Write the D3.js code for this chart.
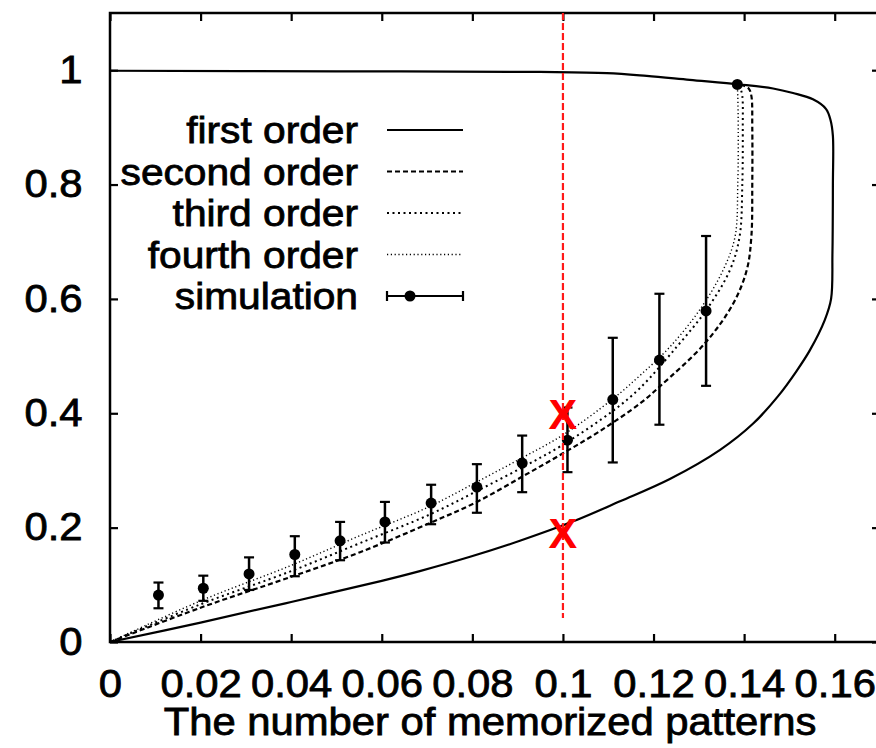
<!DOCTYPE html>
<html>
<head>
<meta charset="utf-8">
<script src="https://cdn.jsdelivr.net/npm/d3@7.9.0/dist/d3.min.js"></script>
<style>
  html, body { margin: 0; padding: 0; background: #fff; }
  svg { display: block; }
  text { font-family: "Liberation Sans", Arial, sans-serif; fill: #000; }
</style>
</head>
<body>
<svg id="chart" width="876" height="748"></svg>
<script>
// ticks
const xTicks = [0, 0.02, 0.04, 0.06, 0.08, 0.1, 0.12, 0.14, 0.16];
const xTickLabels = ['0', '0.02', '0.04', '0.06', '0.08', '0.1', '0.12', '0.14', '0.16'];
const yTicks = [0, 0.2, 0.4, 0.6, 0.8, 1];
const yTickLabels = ['0', '0.2', '0.4', '0.6', '0.8', '1'];
const xTitle = 'The number of memorized patterns';

// theory curves, [pattern ratio, value], in order along the curve
const firstOrder = [
    [0, 0], [0.02, 0.034], [0.04, 0.070], [0.06, 0.107], [0.0684, 0.124], [0.0795, 0.149],
    [0.0905, 0.177], [0.1023, 0.211], [0.1126, 0.246], [0.1236, 0.285], [0.1347, 0.336],
    [0.142, 0.382], [0.1475, 0.430], [0.1515, 0.473], [0.1545, 0.510], [0.1578, 0.563],
    [0.1592, 0.6], [0.1595, 0.68], [0.1596, 0.8], [0.1596, 0.885], [0.1591, 0.912],
    [0.1581, 0.932], [0.1552, 0.949], [0.1508, 0.960], [0.1464, 0.968], [0.139, 0.975],
    [0.128, 0.983], [0.1185, 0.990], [0.1097, 0.995], [0.0949, 0.997], [0.05, 0.998], [0, 0.999]
];
const secondOrder = [
    [0, 0], [0.02, 0.060], [0.04, 0.114], [0.0552, 0.157], [0.0706, 0.208], [0.081, 0.245],
    [0.0912, 0.290], [0.1, 0.330], [0.108, 0.368], [0.117, 0.417], [0.1214, 0.447],
    [0.1313, 0.522], [0.1376, 0.592], [0.1406, 0.651], [0.1416, 0.709], [0.1418, 0.8],
    [0.1418, 0.9], [0.1416, 0.955], [0.141, 0.968], [0.1395, 0.974]
];
const thirdOrder = [
    [0, 0], [0.02, 0.066], [0.04, 0.124], [0.0552, 0.173], [0.0706, 0.223], [0.081, 0.264],
    [0.0912, 0.306], [0.1, 0.345], [0.111, 0.404], [0.117, 0.444], [0.1251, 0.516],
    [0.1317, 0.581], [0.1369, 0.651], [0.139, 0.709], [0.1396, 0.8], [0.1397, 0.9],
    [0.1396, 0.955], [0.1392, 0.968], [0.1388, 0.974]
];
const fourthOrder = [
    [0, 0], [0.02, 0.072], [0.04, 0.134], [0.0552, 0.186], [0.0706, 0.237], [0.081, 0.280],
    [0.0912, 0.323], [0.1, 0.362], [0.111, 0.425], [0.117, 0.466], [0.1236, 0.516],
    [0.1302, 0.581], [0.1354, 0.651], [0.138, 0.709], [0.1386, 0.8], [0.1387, 0.9],
    [0.1386, 0.955], [0.1385, 0.972]
];

// simulation: ratio, mean, error bar low / high
const simX = [0.0107, 0.0206, 0.0307, 0.0408, 0.0508, 0.0607, 0.0709, 0.081, 0.091, 0.101, 0.111, 0.1213, 0.1316, 0.1385];
const simY = [0.082, 0.094, 0.119, 0.153, 0.177, 0.210, 0.243, 0.271, 0.313, 0.353, 0.424, 0.493, 0.579, 0.975];
const simLow = [0.059, 0.072, 0.091, 0.115, 0.143, 0.174, 0.206, 0.226, 0.262, 0.297, 0.314, 0.380, 0.448, 0.975];
const simHigh = [0.104, 0.116, 0.148, 0.185, 0.210, 0.245, 0.275, 0.311, 0.361, 0.410, 0.532, 0.609, 0.710, 0.975];

const legendLabels = ['first order', 'second order', 'third order', 'fourth order', 'simulation'];

// red annotation
const markX = 0.1;
const markY = [0.4, 0.192];
const markLineBottom = 0.042;

const svg = d3.select('#chart');
const x = d3.scaleLinear().domain([0, 0.17]).range([110, 880]);
const y = d3.scaleLinear().domain([0, 1.1]).range([642, 13]);

const styles = {
    first: { dash: null, width: 2.2 },
    second: { dash: '5,3', width: 2.2 },
    third: { dash: '2,3.5', width: 2 },
    fourth: { dash: '1.2,2.6', width: 1.4 },
};

const line = d3.line()
    .x(d => x(d[0]))
    .y(d => y(d[1]))
    .curve(d3.curveCatmullRom.alpha(0.5));

// frame
svg.append('rect')
    .attr('x', x(0)).attr('y', y(1.1))
    .attr('width', x(0.17) - x(0)).attr('height', y(0) - y(1.1))
    .attr('fill', 'none').attr('stroke', '#000').attr('stroke-width', 2.5);

// axes, ticks inward on all four sides
const xAxis = svg.append('g')
    .attr('transform', `translate(0,${y(0)})`)
    .call(d3.axisBottom(x).tickValues(xTicks).tickSize(-8).tickPadding(28)
        .tickFormat((d, i) => xTickLabels[i]));
svg.append('g')
    .attr('transform', `translate(0,${y(1.1)})`)
    .call(d3.axisTop(x).tickValues(xTicks).tickSize(-8).tickFormat(''));
const yAxis = svg.append('g')
    .attr('transform', `translate(${x(0)},0)`)
    .call(d3.axisLeft(y).tickValues(yTicks).tickSize(-8).tickPadding(25)
        .tickFormat((d, i) => yTickLabels[i]));
svg.append('g')
    .attr('transform', `translate(${x(0.17)},0)`)
    .call(d3.axisRight(y).tickValues(yTicks).tickSize(-8).tickFormat(''));

svg.selectAll('.domain').remove();
svg.selectAll('.tick line').attr('stroke', '#000').attr('stroke-width', 2.2);
svg.selectAll('.tick text')
    .attr('font-family', '"Liberation Sans", Arial, sans-serif')
    .attr('font-size', 38)
    .attr('fill', '#000')
    .attr('stroke', '#000').attr('stroke-width', 0.8);
xAxis.selectAll('.tick text').attr('transform', 'scale(1.1,1)');
yAxis.selectAll('.tick text').attr('transform', 'scale(1.1,1)').attr('x', -25);

svg.append('text')
    .attr('transform', `translate(${(x(0) + x(0.17)) / 2 - 5},735) scale(1.1,1)`)
    .attr('text-anchor', 'middle')
    .attr('font-size', 38)
    .attr('stroke', '#000').attr('stroke-width', 0.8)
    .text(xTitle);

// curves
const curves = [
    [firstOrder, styles.first],
    [secondOrder, styles.second],
    [thirdOrder, styles.third],
    [fourthOrder, styles.fourth],
];
curves.forEach(([data, st]) => {
    svg.append('path')
        .datum(data)
        .attr('d', line)
        .attr('fill', 'none')
        .attr('stroke', '#000')
        .attr('stroke-width', st.width)
        .attr('stroke-dasharray', st.dash);
});

// simulation with error bars
const sim = simX.map((v, i) => ({ x: v, y: simY[i], lo: simLow[i], hi: simHigh[i] }));
const bars = svg.append('g').selectAll('g').data(sim).join('g');
bars.append('line')
    .attr('x1', d => x(d.x)).attr('x2', d => x(d.x))
    .attr('y1', d => y(d.lo)).attr('y2', d => y(d.hi))
    .attr('stroke', '#000').attr('stroke-width', 2.5);
bars.filter(d => d.hi > d.lo).selectAll('.cap')
    .data(d => [[d.x, d.lo], [d.x, d.hi]])
    .join('line')
    .attr('x1', d => x(d[0]) - 5).attr('x2', d => x(d[0]) + 5)
    .attr('y1', d => y(d[1])).attr('y2', d => y(d[1]))
    .attr('stroke', '#000').attr('stroke-width', 2.2);
bars.append('circle')
    .attr('cx', d => x(d.x)).attr('cy', d => y(d.y))
    .attr('r', 5.5).attr('fill', '#000');

// legend
const legend = svg.append('g');
const legendStyles = [styles.first, styles.second, styles.third, styles.fourth];
legendLabels.forEach((label, i) => {
    const cy = 130 + i * 41.5;
    legend.append('text')
        .attr('transform', `translate(358,${cy}) scale(1.1,1)`)
        .attr('dy', '0.36em')
        .attr('text-anchor', 'end')
        .attr('font-size', 37)
        .attr('stroke', '#000').attr('stroke-width', 0.8)
        .text(label);
    if (i < 4) {
        legend.append('line')
            .attr('x1', 387).attr('x2', 463)
            .attr('y1', cy).attr('y2', cy)
            .attr('stroke', '#000')
            .attr('stroke-width', legendStyles[i].width)
            .attr('stroke-dasharray', legendStyles[i].dash);
    } else {
        legend.append('line')
            .attr('x1', 387).attr('x2', 463).attr('y1', cy).attr('y2', cy)
            .attr('stroke', '#000').attr('stroke-width', 2);
        [387, 463].forEach(px => {
            legend.append('line')
                .attr('x1', px).attr('x2', px).attr('y1', cy - 5).attr('y2', cy + 5)
                .attr('stroke', '#000').attr('stroke-width', 2.2);
        });
        legend.append('circle').attr('cx', 410).attr('cy', cy).attr('r', 5.5).attr('fill', '#000');
    }
});

// red marks
svg.append('line')
    .attr('x1', x(markX)).attr('x2', x(markX))
    .attr('y1', y(1.1)).attr('y2', y(markLineBottom))
    .attr('stroke', '#ff1a1a').attr('stroke-width', 2.2)
    .attr('stroke-dasharray', '7,3');
svg.selectAll('.mark')
    .data(markY)
    .join('text')
    .attr('class', 'mark')
    .attr('x', x(markX)).attr('y', d => y(d))
    .attr('dy', '0.36em')
    .attr('text-anchor', 'middle')
    .attr('font-size', 43)
    .attr('font-weight', 'bold')
    .style('fill', '#ff0000')
    .text('X');
</script>
</body>
</html>
